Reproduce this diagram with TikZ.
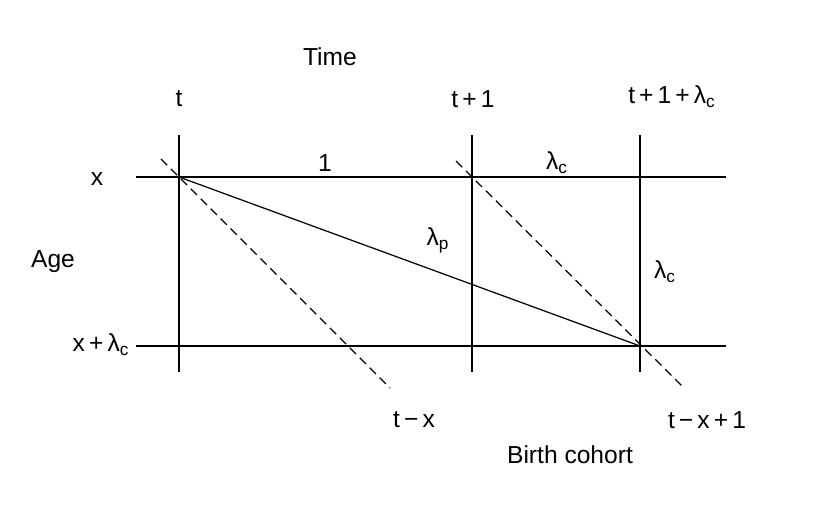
\documentclass[tikz,border=0pt]{standalone}
\usepackage{fontspec}
\setmainfont{Liberation Sans}
\usetikzlibrary{positioning}
\newcommand{\lam}[1]{λ\textsubscript{#1}}
\tikzset{
  grid line/.style={draw=black,line width=0.7pt},
  cohort/.style={draw=black,line width=0.7pt,dash pattern=on 5pt off 3pt},
  lbl/.style={font=\fontsize{14}{16}\selectfont,inner sep=1pt},
}

\begin{document}
\begin{tikzpicture}[x=0.02cm,y=-0.02cm]
    \useasboundingbox (0,0) rectangle (832,509);
    % time lines
    \foreach \x/\n in {179/a,472/b,640/c} {
      \coordinate (\n top) at (\x,135);
      \coordinate (\n bot) at (\x,372);
      \draw[grid line] (\n top) -- (\n bot);
    }
    % age lines
    \foreach \y/\n in {177/x,346/xl} {
      \coordinate (\n left) at (136,\y);
      \coordinate (\n right) at (726,\y);
      \draw[grid line] (\n left) -- (\n right);
    }
    \coordinate (p0) at (179,177);
    \coordinate (p1) at (640,346);
    \draw[grid line] (p0) -- (p1);
    % cohort diagonals
    \coordinate (d1s) at (161,159);
    \coordinate (d1e) at (390,388);
    \coordinate (d2s) at (456,161);
    \coordinate (d2e) at (684,388);
    \draw[cohort] (d1s) -- (d1e);
    \draw[cohort] (d2s) -- (d2e);
    % labels
    \node[lbl] (time) at (330,57) {Time};
    \node[lbl] (t0) at (179,99) {t};
    \node[lbl] (t1) at (473,99) {t\,+\,1};
    \node[lbl] (t2) at (672,97) {t\,+\,1\,+\,\lam{c}};
    \node[lbl] (ax) at (97,179) {x};
    \node[lbl] (age) at (53,262) {Age};
    \node[lbl] (axl) at (101,345) {x\,+\,\lam{c}};
    \node[lbl] (one) at (325,163) {1};
    \node[lbl] (lc1) at (557,163) {\lam{c}};
    \node[lbl] (lp) at (438,240) {\lam{p}};
    \node[lbl] (lc2) at (665,272) {\lam{c}};
    \node[lbl] (c0) at (414,420) {t\,−\,x};
    \node[lbl] (c1) at (707,420) {t\,−\,x\,+\,1};
    \node[lbl] (birth) at (570,455) {Birth cohort};
\end{tikzpicture}
\end{document}
